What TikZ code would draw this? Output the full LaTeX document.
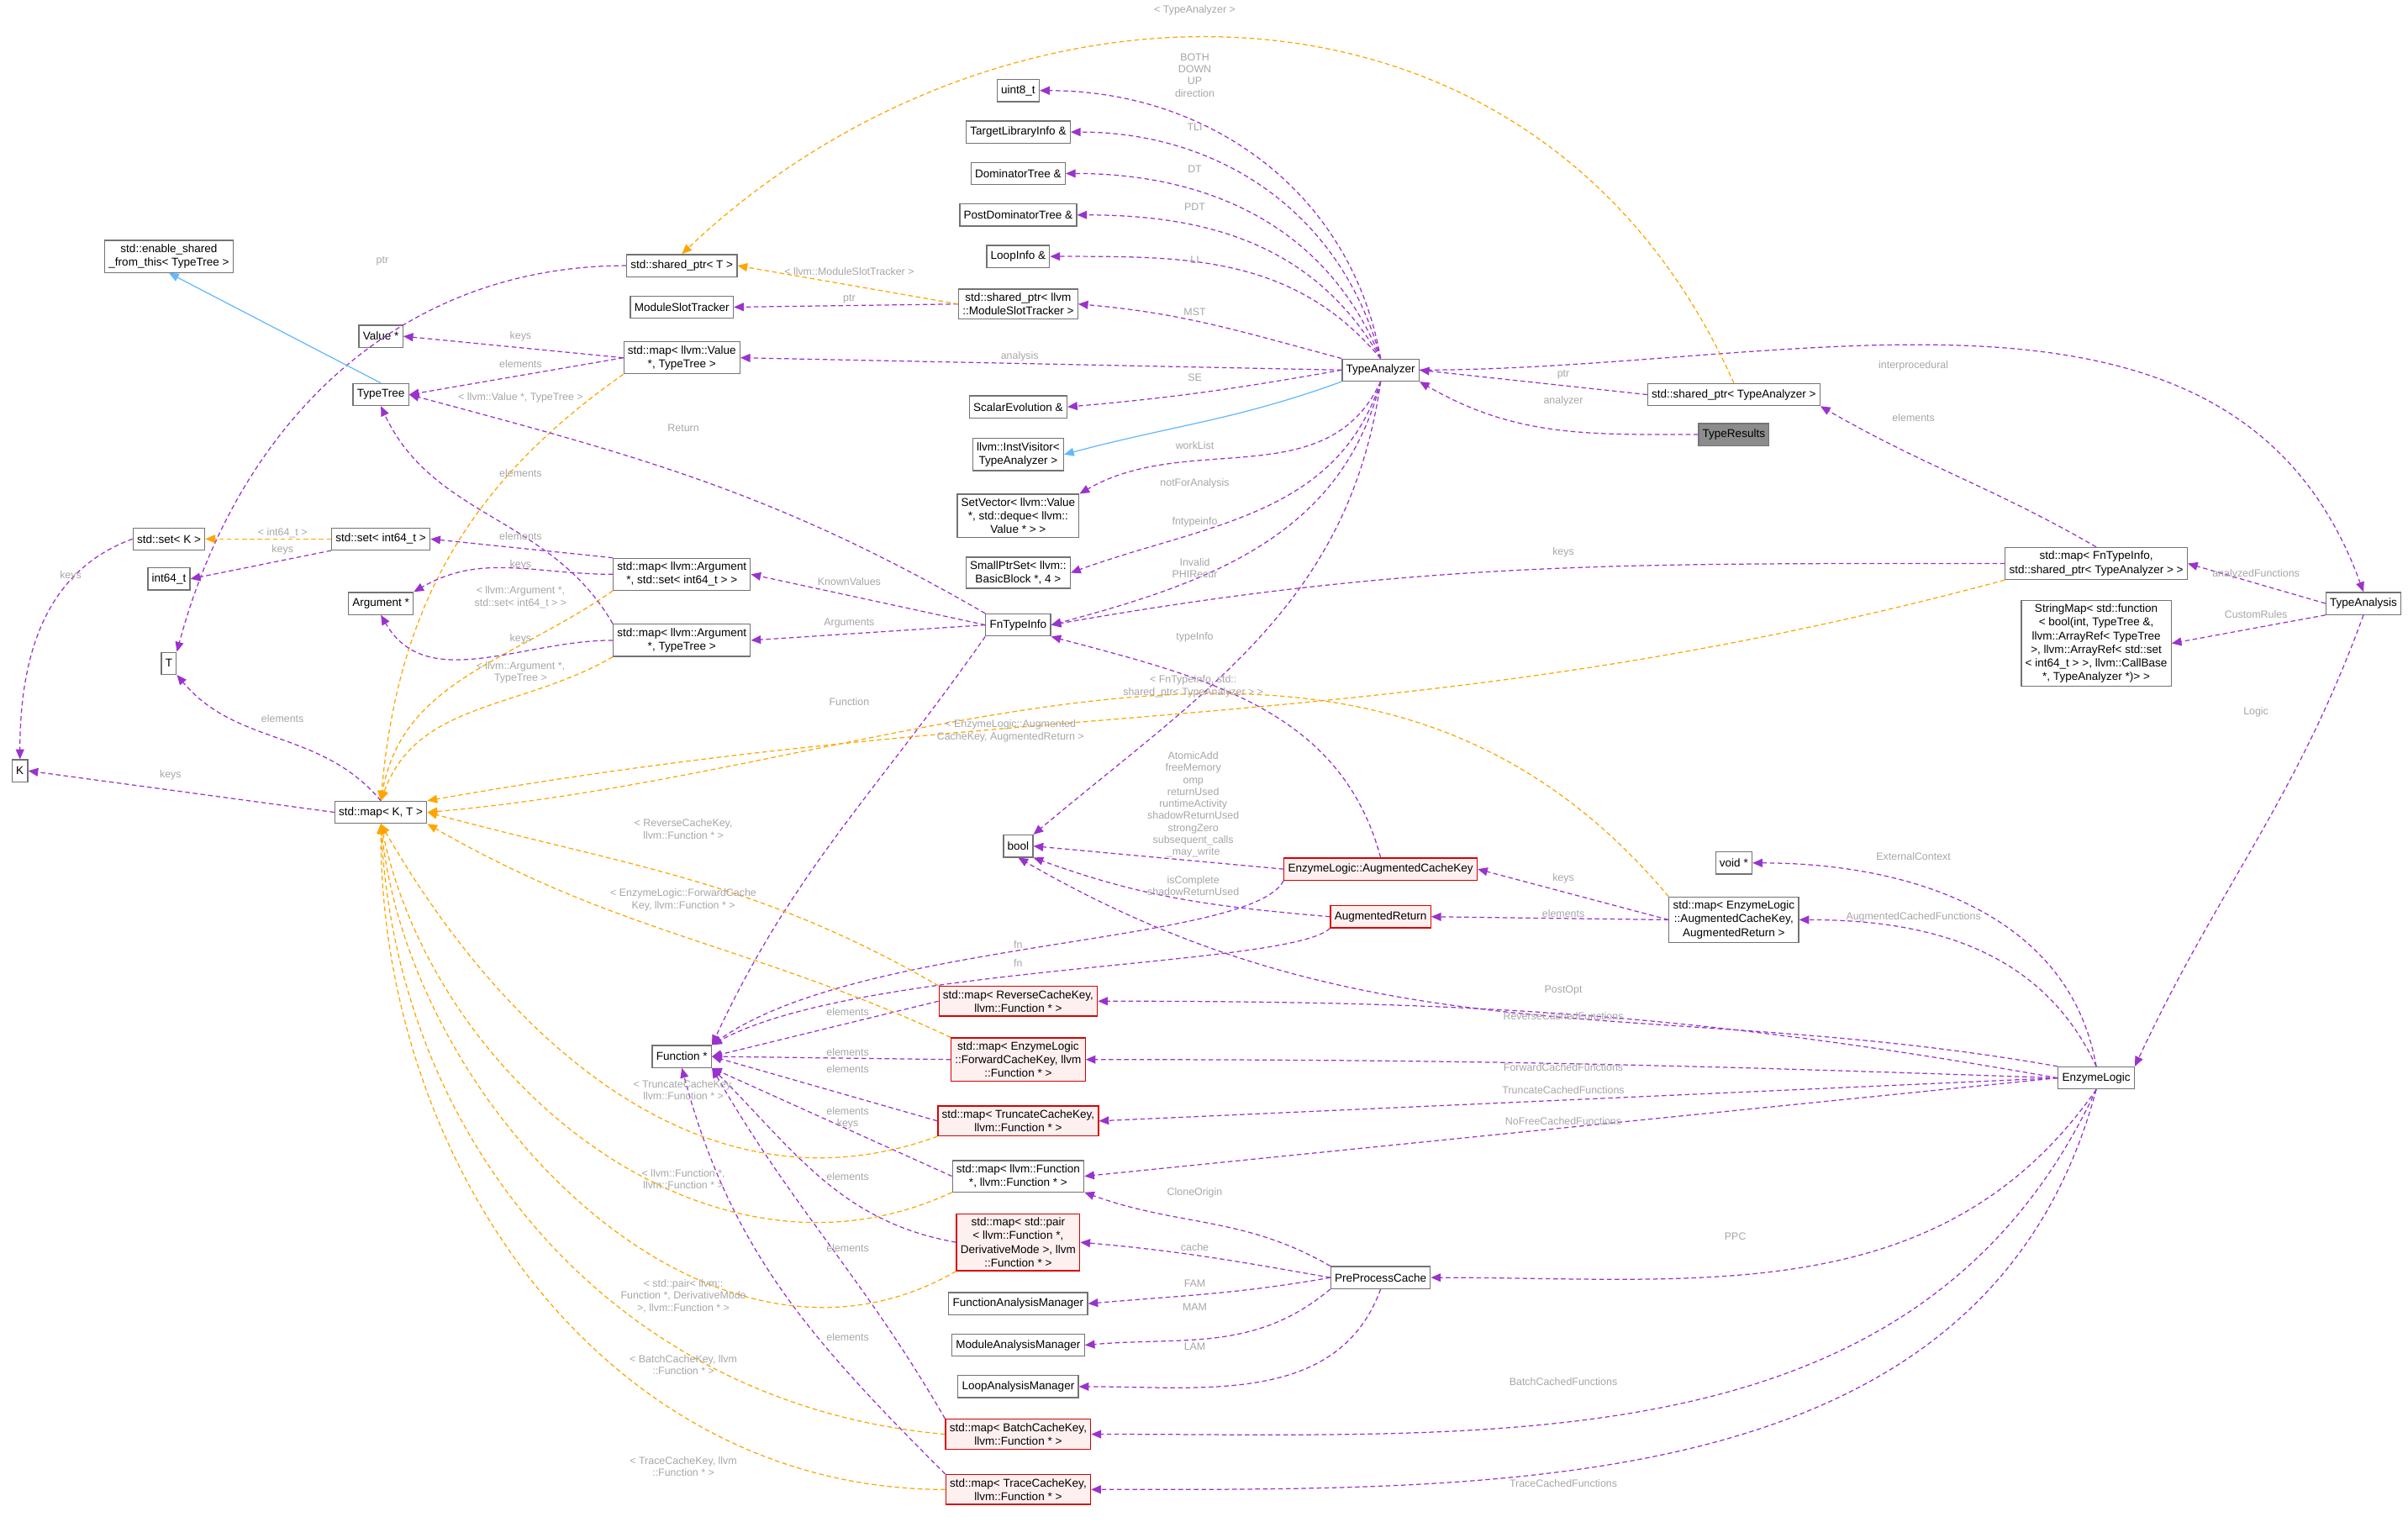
\documentclass[tikz,border=0pt]{standalone}
\usepackage{fontspec}
\setmainfont{Liberation Sans}
\usetikzlibrary{arrows.meta}

\definecolor{usecol}{HTML}{9A32CD}
\definecolor{tmplcol}{HTML}{FFA500}
\definecolor{inhcol}{HTML}{63B8FF}

\tikzset{
  box/.style={draw=black!55, fill=white, font=\fontsize{1.85}{2.2}\selectfont, align=center,
    inner sep=0.65pt, minimum height=3.6pt, line width=0.17pt},
  hot/.style={box, draw=red!85!black, fill=red!6},
  cur/.style={box, fill=black!45},
  use/.style={draw=usecol, line width=0.17pt, dash pattern=on 0.75pt off 0.5pt,
    -{Triangle[length=1.6pt,width=1.35pt]}},
  tmpl/.style={use, draw=tmplcol},
  inh/.style={draw=inhcol, line width=0.17pt, -{Triangle[length=1.6pt,width=1.35pt]}},
  lbl/.style={font=\fontsize{1.7}{1.95}\selectfont, text=black!35, align=center, inner sep=0pt}
}

\begin{document}
\begin{tikzpicture}[x=0.25pt, y=-0.25pt]
  \useasboundingbox (0,0) rectangle (1568,991);

  % left columns
  \node[box] (esft) at (110,167) {std::enable\_shared\\\_from\_this{<} TypeTree {>}};
  \node[box] (setk) at (110,351) {std::set{<} K {>}};
  \node[box] (int64) at (110,377) {int64\_t};
  \node[box] (T) at (110,432) {T};
  \node[box] (K) at (13,502) {K};
  \node[box] (valp) at (248,219) {Value *};
  \node[box] (tt) at (248,257) {TypeTree};
  \node[box] (setint) at (248,351) {std::set{<} int64\_t {>}};
  \node[box] (argp) at (248,393) {Argument *};
  \node[box] (mapkt) at (248,529) {std::map{<} K, T {>}};
  \node[box] (sptrt) at (444,173) {std::shared\_ptr{<} T {>}};
  \node[box] (mod) at (444,200) {ModuleSlotTracker};
  \node[box] (mapval) at (444,233) {std::map{<} llvm::Value\\*, TypeTree {>}};
  \node[box] (maparg) at (444,374) {std::map{<} llvm::Argument\\*, std::set{<} int64\_t {>} {>}};
  \node[box] (mapatt) at (444,417) {std::map{<} llvm::Argument\\*, TypeTree {>}};
  \node[box] (func) at (444,688) {Function *};

  % middle column
  \node[box] (u8) at (663,59) {uint8\_t};
  \node[box] (tli) at (663,86) {TargetLibraryInfo \&};
  \node[box] (dt) at (663,113) {DominatorTree \&};
  \node[box] (pdt) at (663,140) {PostDominatorTree \&};
  \node[box] (li) at (663,167) {LoopInfo \&};
  \node[box] (smst) at (663,198) {std::shared\_ptr{<} llvm\\::ModuleSlotTracker {>}};
  \node[box] (se) at (663,265) {ScalarEvolution \&};
  \node[box] (iv) at (663,296) {llvm::InstVisitor{<}\\TypeAnalyzer {>}};
  \node[box] (setv) at (663,336) {SetVector{<} llvm::Value\\*, std::deque{<} llvm::\\Value * {>} {>}};
  \node[box] (spset) at (663,373) {SmallPtrSet{<} llvm::\\BasicBlock *, 4 {>}};
  \node[box] (fti) at (663,407) {FnTypeInfo};
  \node[box] (bool) at (663,551) {bool};
  \node[hot] (maprev) at (663,652) {std::map{<} ReverseCacheKey,\\llvm::Function * {>}};
  \node[hot] (mapfwd) at (663,690) {std::map{<} EnzymeLogic\\::ForwardCacheKey, llvm\\::Function * {>}};
  \node[hot] (maptrunc) at (663,730) {std::map{<} TruncateCacheKey,\\llvm::Function * {>}};
  \node[box] (mapff) at (663,766) {std::map{<} llvm::Function\\*, llvm::Function * {>}};
  \node[hot] (mappair) at (663,809) {std::map{<} std::pair\\{<} llvm::Function *,\\DerivativeMode {>}, llvm\\::Function * {>}};
  \node[box] (fam) at (663,849) {FunctionAnalysisManager};
  \node[box] (mam) at (663,876) {ModuleAnalysisManager};
  \node[box] (lam) at (663,903) {LoopAnalysisManager};
  \node[hot] (mapbatch) at (663,934) {std::map{<} BatchCacheKey,\\llvm::Function * {>}};
  \node[hot] (maptrace) at (663,970) {std::map{<} TraceCacheKey,\\llvm::Function * {>}};

  % right part
  \node[box] (ta) at (899,241) {TypeAnalyzer};
  \node[hot] (ack) at (899,566) {EnzymeLogic::AugmentedCacheKey};
  \node[hot] (aug) at (899,597) {AugmentedReturn};
  \node[box] (ppc) at (899,832) {PreProcessCache};
  \node[box] (sptrta) at (1129,257) {std::shared\_ptr{<} TypeAnalyzer {>}};
  \node[cur] (tres) at (1129,283) {TypeResults};
  \node[box] (voidp) at (1129,562) {void *};
  \node[box] (mapack) at (1129,599) {std::map{<} EnzymeLogic\\::AugmentedCacheKey,\\AugmentedReturn {>}};
  \node[box] (mapfti) at (1365,367) {std::map{<} FnTypeInfo,\\std::shared\_ptr{<} TypeAnalyzer {>} {>}};
  \node[box] (strmap) at (1365,419) {StringMap{<} std::function\\{<} bool(int, TypeTree \&,\\llvm::ArrayRef{<} TypeTree\\{>}, llvm::ArrayRef{<} std::set\\{<} int64\_t {>} {>}, llvm::CallBase\\*, TypeAnalyzer *){>} {>}};
  \node[box] (el) at (1365,702) {EnzymeLogic};
  \node[box] (tanal) at (1539,393) {TypeAnalysis};

  % TypeAnalyzer members
  \draw[use] (ta.north) to[out=100,in=0] (u8.east);
  \draw[use] (ta.north) to[out=105,in=0] (tli.east);
  \draw[use] (ta.north) to[out=112,in=0] (dt.east);
  \draw[use] (ta.north) to[out=120,in=0] (pdt.east);
  \draw[use] (ta.north) to[out=130,in=0] (li.east);
  \draw[use] (ta.north west) to[out=165,in=-5] (smst.east);
  \draw[use] (ta.west) -- (mapval.east);
  \draw[use] (ta.west) to[out=190,in=5] (se.east);
  \draw[inh] (ta.south west) to[out=200,in=15] (iv.east);
  \draw[use] (ta.south) to[out=245,in=30] (setv.north east);
  \draw[use] (ta.south) to[out=252,in=20] (spset.east);
  \draw[use] (ta.south) to[out=256,in=15] (fti.east);
  \draw[use] (ta.south) to[out=262,in=40] (bool.north east);
  \draw[use] (ta.east) to[out=0,in=110] (tanal.north);
  \draw[use] (sptrta.west) -- (ta.east);
  \draw[use] (tres.west) to[out=180,in=-30] (ta.south east);
  \draw[tmpl] (sptrta.north) .. controls (1000,-40) and (650,-30) .. (sptrt.north);
  \draw[use] (smst.west) -- (mod.east);
  \draw[tmpl] (smst.west) -- (sptrt.east);
  \draw[use] (sptrt.west) to[out=180,in=75] (T.north east);
  \draw[inh] (tt.north) -- (esft.south);

  % maps and sets on the left
  \draw[use] (mapval.west) -- (valp.east);
  \draw[use] (mapval.west) -- (tt.east);
  \draw[tmpl] (mapval.south west) to[out=215,in=85] (mapkt.north);
  \draw[tmpl] (setint.west) -- (setk.east);
  \draw[use] (setint.south west) -- (int64.east);
  \draw[use] (setk.west) to[out=200,in=90] (K.north);
  \draw[use] (maparg.north west) -- (setint.east);
  \draw[use] (maparg.west) to[out=180,in=30] (argp.north east);
  \draw[tmpl] (maparg.south west) to[out=215,in=80] (mapkt.north);
  \draw[use] (mapatt.west) to[out=180,in=-60] (argp.south);
  \draw[use] (mapatt.north west) to[out=120,in=-65] (tt.south);
  \draw[tmpl] (mapatt.south west) to[out=210,in=70] (mapkt.north);
  \draw[use] (mapkt.west) -- (K.east);
  \draw[use] (mapkt.north) to[out=130,in=-50] (T.south east);

  % FnTypeInfo and TypeAnalysis
  \draw[use] (fti.north west) to[out=150,in=-15] (tt.east);
  \draw[use] (fti.west) -- (maparg.east);
  \draw[use] (fti.west) -- (mapatt.east);
  \draw[use] (fti.south west) to[out=235,in=65] (func.north east);
  \draw[use] (mapfti.west) to[out=180,in=10] (fti.east);
  \draw[use] (mapfti.north) to[out=150,in=-30] (sptrta.south east);
  \draw[tmpl] (mapfti.south west) to[out=195,in=10] (mapkt.north east);
  \draw[use] (tanal.west) -- (mapfti.east);
  \draw[use] (tanal.south west) -- (strmap.east);
  \draw[use] (tanal.south) to[out=250,in=65] (el.north east);

  % augmented cache
  \draw[use] (ack.north) to[out=105,in=-15] (fti.south east);
  \draw[use] (ack.west) -- (bool.east);
  \draw[use] (ack.south west) .. controls (815,615) and (560,612) .. (func.north east);
  \draw[use] (aug.west) to[out=175,in=-20] (bool.south east);
  \draw[use] (aug.south west) .. controls (840,630) and (560,628) .. (func.north east);
  \draw[use] (mapack.west) -- (ack.east);
  \draw[use] (mapack.west) -- (aug.east);
  \draw[tmpl] (mapack.north west) to[out=130,in=5] (mapkt.east);

  % EnzymeLogic members
  \draw[use] (el.north) to[out=100,in=0] (voidp.east);
  \draw[use] (el.north) to[out=115,in=0] (mapack.east);
  \draw[use] (el.north west) to[out=170,in=-30] (bool.south);
  \draw[use] (el.west) to[out=170,in=0] (maprev.east);
  \draw[use] (el.west) to[out=178,in=0] (mapfwd.east);
  \draw[use] (el.west) -- (maptrunc.east);
  \draw[use] (el.west) -- (mapff.east);
  \draw[use] (el.south) to[out=235,in=0] (ppc.east);
  \draw[use] (el.south) to[out=245,in=0] (mapbatch.east);
  \draw[use] (el.south) to[out=255,in=0] (maptrace.east);

  % caches of functions
  \draw[use] (maprev.west) -- (func.east);
  \draw[use] (mapfwd.west) -- (func.east);
  \draw[use] (maptrunc.west) -- (func.east);
  \draw[use] (mapff.west) -- (func.south east);
  \draw[use] (mappair.west) to[out=170,in=-45] (func.south east);
  \draw[use] (mapbatch.north west) to[out=120,in=-60] (func.south east);
  \draw[use] (maptrace.north west) to[out=135,in=-75] (func.south);
  \draw[tmpl] (maprev.north west) to[out=150,in=-15] (mapkt.east);
  \draw[tmpl] (mapfwd.north west) to[out=155,in=-30] (mapkt.south east);
  \draw[tmpl] (maptrunc.south west) to[out=200,in=-60] (mapkt.south);
  \draw[tmpl] (mapff.south west) to[out=205,in=-78] (mapkt.south);
  \draw[tmpl] (mappair.south west) to[out=210,in=-84] (mapkt.south);
  \draw[tmpl] (mapbatch.west) to[out=175,in=-87] (mapkt.south);
  \draw[tmpl] (maptrace.west) to[out=180,in=-90] (mapkt.south);

  % PreProcessCache
  \draw[use] (ppc.north west) to[out=150,in=-20] (mapff.south east);
  \draw[use] (ppc.west) to[out=170,in=-5] (mappair.east);
  \draw[use] (ppc.west) to[out=190,in=5] (fam.east);
  \draw[use] (ppc.south west) to[out=220,in=5] (mam.east);
  \draw[use] (ppc.south) to[out=250,in=0] (lam.east);

  % labels
  \node[lbl] at (778,7) {{<} TypeAnalyzer {>}};
  \node[lbl] at (778,49) {BOTH\\DOWN\\UP\\direction};
  \node[lbl] at (778,83) {TLI};
  \node[lbl] at (778,110) {DT};
  \node[lbl] at (778,135) {PDT};
  \node[lbl] at (778,169) {LI};
  \node[lbl] at (778,203) {MST};
  \node[lbl] at (664,232) {analysis};
  \node[lbl] at (778,246) {SE};
  \node[lbl] at (778,290) {workList};
  \node[lbl] at (778,315) {notForAnalysis};
  \node[lbl] at (778,340) {fntypeinfo};
  \node[lbl] at (778,370) {Invalid\\PHIRecur};
  \node[lbl] at (778,415) {typeInfo};
  \node[lbl] at (777,447) {{<} FnTypeInfo, std::\\shared\_ptr{<} TypeAnalyzer {>} {>}};
  \node[lbl] at (658,476) {{<} EnzymeLogic::Augmented\\CacheKey, AugmentedReturn {>}};
  \node[lbl] at (777,524) {AtomicAdd\\freeMemory\\omp\\returnUsed\\runtimeActivity\\shadowReturnUsed\\strongZero\\subsequent\_calls\\\_may\_write};
  \node[lbl] at (777,577) {isComplete\\shadowReturnUsed};
  \node[lbl] at (663,615) {fn};
  \node[lbl] at (663,627) {fn};
  \node[lbl] at (553,177) {{<} llvm::ModuleSlotTracker {>}};
  \node[lbl] at (553,195) {ptr};
  \node[lbl] at (445,279) {Return};
  \node[lbl] at (553,379) {KnownValues};
  \node[lbl] at (553,406) {Arguments};
  \node[lbl] at (553,457) {Function};
  \node[lbl] at (249,170) {ptr};
  \node[lbl] at (339,219) {keys};
  \node[lbl] at (339,237) {elements};
  \node[lbl] at (339,259) {{<} llvm::Value *, TypeTree {>}};
  \node[lbl] at (339,308) {elements};
  \node[lbl] at (184,347) {{<} int64\_t {>}};
  \node[lbl] at (184,358) {keys};
  \node[lbl] at (46,375) {keys};
  \node[lbl] at (339,349) {elements};
  \node[lbl] at (339,368) {keys};
  \node[lbl] at (339,389) {{<} llvm::Argument *,\\std::set{<} int64\_t {>} {>}};
  \node[lbl] at (339,416) {keys};
  \node[lbl] at (339,438) {{<} llvm::Argument *,\\TypeTree {>}};
  \node[lbl] at (184,468) {elements};
  \node[lbl] at (111,505) {keys};
  \node[lbl] at (445,540) {{<} ReverseCacheKey,\\llvm::Function * {>}};
  \node[lbl] at (445,586) {{<} EnzymeLogic::ForwardCache\\Key, llvm::Function * {>}};
  \node[lbl] at (445,710) {{<} TruncateCacheKey,\\llvm::Function * {>}};
  \node[lbl] at (445,768) {{<} llvm::Function *,\\llvm::Function * {>}};
  \node[lbl] at (445,844) {{<} std::pair{<} llvm::\\Function *, DerivativeMode\\{>}, llvm::Function * {>}};
  \node[lbl] at (445,889) {{<} BatchCacheKey, llvm\\::Function * {>}};
  \node[lbl] at (445,955) {{<} TraceCacheKey, llvm\\::Function * {>}};
  \node[lbl] at (552,659) {elements};
  \node[lbl] at (552,685) {elements};
  \node[lbl] at (552,696) {elements};
  \node[lbl] at (552,728) {elements\\keys};
  \node[lbl] at (552,766) {elements};
  \node[lbl] at (552,813) {elements};
  \node[lbl] at (552,871) {elements};
  \node[lbl] at (778,777) {CloneOrigin};
  \node[lbl] at (778,812) {cache};
  \node[lbl] at (778,836) {FAM};
  \node[lbl] at (778,851) {MAM};
  \node[lbl] at (778,877) {LAM};
  \node[lbl] at (1018,244) {ptr};
  \node[lbl] at (1018,261) {analyzer};
  \node[lbl] at (1246,238) {interprocedural};
  \node[lbl] at (1246,272) {elements};
  \node[lbl] at (1018,360) {keys};
  \node[lbl] at (1469,374) {analyzedFunctions};
  \node[lbl] at (1469,400) {CustomRules};
  \node[lbl] at (1469,464) {Logic};
  \node[lbl] at (1246,558) {ExternalContext};
  \node[lbl] at (1246,597) {AugmentedCachedFunctions};
  \node[lbl] at (1018,572) {keys};
  \node[lbl] at (1018,595) {elements};
  \node[lbl] at (1018,645) {PostOpt};
  \node[lbl] at (1018,662) {ReverseCachedFunctions};
  \node[lbl] at (1018,695) {ForwardCachedFunctions};
  \node[lbl] at (1018,710) {TruncateCachedFunctions};
  \node[lbl] at (1018,730) {NoFreeCachedFunctions};
  \node[lbl] at (1130,805) {PPC};
  \node[lbl] at (1018,900) {BatchCachedFunctions};
  \node[lbl] at (1018,966) {TraceCachedFunctions};
\end{tikzpicture}
\end{document}
